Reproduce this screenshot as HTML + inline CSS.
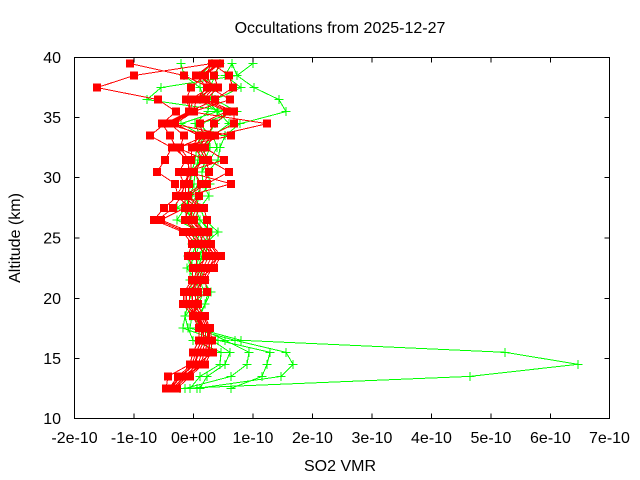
<!DOCTYPE html>
<html>
<head>
<meta charset="utf-8">
<style>
html,body{margin:0;padding:0;background:#fff;}
svg{display:block;}
text{font-family:"Liberation Sans",Arial,sans-serif;font-size:16px;fill:#000;}
</style>
</head>
<body>
<svg width="640" height="480" viewBox="0 0 640 480" xmlns="http://www.w3.org/2000/svg">
<defs>
<marker id="sq" markerUnits="userSpaceOnUse" markerWidth="8" markerHeight="8" refX="4" refY="4" overflow="visible">
<rect x="0" y="0" width="8" height="8" fill="#ff0000" shape-rendering="crispEdges"/>
</marker>
<marker id="pl" markerUnits="userSpaceOnUse" markerWidth="10" markerHeight="10" refX="5" refY="5" overflow="visible">
<path d="M0.5 5H9.5M5 0.5V9.5" stroke="#00ff00" stroke-width="1" fill="none" shape-rendering="crispEdges"/>
</marker>
</defs>
<rect width="640" height="480" fill="#fff"/>

<!-- green profiles -->
<g fill="none" stroke="#00ff00" stroke-width="1" shape-rendering="crispEdges" marker-start="url(#pl)" marker-mid="url(#pl)" marker-end="url(#pl)">
<polyline points="180,388.4 470,376.4 578,364.3 505,352.3 241,340.3 196,328.2 200,316.2 205,304.2 211,292.1 203,280.1 198,268.1 202,256.0 205,244.0 218,232.0 205,219.9 200,207.9 209,195.9 203,183.8 202,171.8 210,159.8 217,147.7 213,135.7 229,123.7 218,111.6 205,99.6 200,87.6 184,75.5 181,63.5"/>
<polyline points="197,388.4 281,376.4 293,364.3 286,352.3 235,340.3 190,328.2 192,316.2 198,304.2 204,292.1 200,280.1 195,268.1 200,256.0 203,244.0 210,232.0 200,219.9 195,207.9 200,195.9 210,183.8 208,171.8 218,159.8 220,147.7 225,135.7 240,123.7 286,111.6 279,99.6 254,87.6 237,75.5 253,63.5"/>
<polyline points="231,388.4 262,376.4 267,364.3 270,352.3 218,340.3 183,328.2 185,316.2 195,304.2 200,292.1 196,280.1 187,268.1 196,256.0 199,244.0 205,232.0 196,219.9 190,207.9 196,195.9 203,183.8 202,171.8 205,159.8 210,147.7 208,135.7 215,123.7 230,111.6 147,99.6 161,87.6 237,75.5 232,63.5"/>
<polyline points="185,388.4 231,376.4 247,364.3 249,352.3 225,340.3 200,328.2 198,316.2 205,304.2 208,292.1 205,280.1 200,268.1 206,256.0 207,244.0 212,232.0 200,219.9 177,207.9 192,195.9 198,183.8 196,171.8 200,159.8 205,147.7 210,135.7 200,123.7 237,111.6 215,99.6 241,87.6 225,75.5 232,63.5"/>
<polyline points="200,388.4 207,376.4 225,364.3 230,352.3 212,340.3 205,328.2 190,316.2 200,304.2 196,292.1 193,280.1 192,268.1 192,256.0 196,244.0 200,232.0 177,219.9 185,207.9 190,195.9 194,183.8 195,171.8 198,159.8 200,147.7 203,135.7 181,123.7 217,111.6 200,99.6 210,87.6 215,75.5 220,63.5"/>
<polyline points="190,388.4 200,376.4 220,364.3 221,352.3 193,340.3 188,328.2 185,316.2 188,304.2 192,292.1 190,280.1 190,268.1 188,256.0 192,244.0 195,232.0 190,219.9 188,207.9 188,195.9 190,183.8 192,171.8 195,159.8 197,147.7 200,135.7 195,123.7 208,111.6 210,99.6 215,87.6 200,75.5 212,63.5"/>
</g>

<!-- red profiles -->
<g fill="none" stroke="#ff0000" stroke-width="1" shape-rendering="crispEdges" marker-start="url(#sq)" marker-mid="url(#sq)" marker-end="url(#sq)">
<polyline points="166,388.4 168,376.4 190,364.3 193,352.3 199,340.3 199,328.2 193,316.2 183,304.2 184,292.1 192,280.1 193,268.1 188,256.0 192,244.0 183,232.0 154,219.9 164,207.9 178,195.9 175,183.8 157,171.8 165,159.8 172,147.7 150,135.7 165,123.7 189,111.6 190,99.6 210,87.6 184,75.5 130,63.5"/>
<polyline points="169,388.4 178,376.4 192,364.3 196,352.3 202,340.3 201,328.2 195,316.2 186,304.2 187,292.1 194,280.1 197,268.1 196,256.0 195,244.0 186,232.0 158,219.9 173,207.9 182,195.9 184,183.8 179,171.8 186,159.8 176,147.7 170,135.7 162,123.7 176,111.6 158,99.6 97,87.6 134,75.5 212,63.5"/>
<polyline points="171,388.4 181,376.4 195,364.3 199,352.3 204,340.3 203,328.2 197,316.2 189,304.2 190,292.1 197,280.1 200,268.1 206,256.0 198,244.0 190,232.0 161,219.9 185,207.9 185,195.9 186,183.8 188,171.8 189,159.8 180,147.7 184,135.7 170,123.7 191,111.6 186,99.6 191,87.6 205,75.5 220,63.5"/>
<polyline points="173,388.4 184,376.4 198,364.3 202,352.3 206,340.3 205,328.2 199,316.2 192,304.2 193,292.1 199,280.1 203,268.1 209,256.0 201,244.0 194,232.0 185,219.9 189,207.9 188,195.9 189,183.8 191,171.8 191,159.8 192,147.7 199,135.7 175,123.7 194,111.6 196,99.6 207,87.6 196,75.5 212,63.5"/>
<polyline points="175,388.4 187,376.4 200,364.3 205,352.3 208,340.3 207,328.2 201,316.2 195,304.2 196,292.1 201,280.1 206,268.1 212,256.0 204,244.0 198,232.0 188,219.9 193,207.9 199,195.9 201,183.8 194,171.8 203,159.8 195,147.7 203,135.7 200,123.7 227,111.6 200,99.6 211,87.6 200,75.5 220,63.5"/>
<polyline points="177,388.4 190,376.4 203,364.3 208,352.3 210,340.3 209,328.2 203,316.2 198,304.2 198,292.1 203,280.1 209,268.1 215,256.0 207,244.0 201,232.0 191,219.9 197,207.9 183,195.9 204,183.8 209,171.8 206,159.8 199,147.7 207,135.7 214,123.7 230,111.6 203,99.6 214,87.6 205,75.5 212,63.5"/>
<polyline points="168,388.4 183,376.4 205,364.3 211,352.3 212,340.3 210,328.2 205,316.2 190,304.2 207,292.1 205,280.1 212,268.1 218,256.0 210,244.0 205,232.0 194,219.9 200,207.9 187,195.9 207,183.8 229,171.8 208,159.8 202,147.7 211,135.7 234,123.7 234,111.6 206,99.6 218,87.6 214,75.5 220,63.5"/>
<polyline points="172,388.4 186,376.4 197,364.3 213,352.3 200,340.3 204,328.2 198,316.2 185,304.2 185,292.1 196,280.1 214,268.1 221,256.0 211,244.0 208,232.0 207,219.9 204,207.9 188,195.9 231,183.8 187,171.8 224,159.8 205,147.7 215,135.7 267,123.7 190,111.6 215,99.6 233,87.6 229,75.5 212,63.5"/>
<polyline points="170,388.4 180,376.4 194,364.3 198,352.3 205,340.3 202,328.2 196,316.2 193,304.2 191,292.1 198,280.1 196,268.1 208,256.0 196,244.0 196,232.0 186,219.9 186,207.9 180,195.9 186,183.8 190,171.8 187,159.8 174,147.7 231,135.7 172,123.7 193,111.6 230,99.6 210,87.6 202,75.5 220,63.5"/>
<polyline points="174,388.4 188,376.4 201,364.3 210,352.3 209,340.3 208,328.2 204,316.2 197,304.2 194,292.1 204,280.1 208,268.1 219,256.0 200,244.0 203,232.0 192,219.9 191,207.9 176,195.9 184,183.8 190,171.8 204,159.8 178,147.7 206,135.7 168,123.7 190,111.6 193,99.6 216,87.6 198,75.5 212,63.5"/>
</g>

<!-- frame -->
<rect x="74.5" y="57.5" width="535" height="361" fill="none" stroke="#000" stroke-width="1"/>
<!-- ticks -->
<g stroke="#000" stroke-width="1">
<path d="M74.5 418.5V413.5M134 418.5V413.5M193.5 418.5V413.5M253 418.5V413.5M312.5 418.5V413.5M372 418.5V413.5M431.5 418.5V413.5M491 418.5V413.5M550.5 418.5V413.5M609.5 418.5V413.5"/>
<path d="M74.5 57.5V62.5M134 57.5V62.5M193.5 57.5V62.5M253 57.5V62.5M312.5 57.5V62.5M372 57.5V62.5M431.5 57.5V62.5M491 57.5V62.5M550.5 57.5V62.5M609.5 57.5V62.5"/>
<path d="M74.5 418.5H79.5M74.5 358.5H79.5M74.5 298.5H79.5M74.5 238H79.5M74.5 177.5H79.5M74.5 117.5H79.5M74.5 57.5H79.5"/>
<path d="M609.5 418.5H604.5M609.5 358.5H604.5M609.5 298.5H604.5M609.5 238H604.5M609.5 177.5H604.5M609.5 117.5H604.5M609.5 57.5H604.5"/>
</g>

<!-- y tick labels -->
<g text-anchor="end">
<text x="61" y="424">10</text>
<text x="61" y="364">15</text>
<text x="61" y="304">20</text>
<text x="61" y="243.5">25</text>
<text x="61" y="183">30</text>
<text x="61" y="123">35</text>
<text x="61" y="63">40</text>
</g>
<!-- x tick labels -->
<g text-anchor="middle">
<text x="74.5" y="443">-2e-10</text>
<text x="134" y="443">-1e-10</text>
<text x="193.5" y="443">0e+00</text>
<text x="253" y="443">1e-10</text>
<text x="312.5" y="443">2e-10</text>
<text x="372" y="443">3e-10</text>
<text x="431.5" y="443">4e-10</text>
<text x="491" y="443">5e-10</text>
<text x="550.5" y="443">6e-10</text>
<text x="609.5" y="443">7e-10</text>
</g>

<text x="340" y="33" text-anchor="middle">Occultations from 2025-12-27</text>
<text x="340" y="471" text-anchor="middle">SO2 VMR</text>
<text transform="translate(20,238) rotate(-90)" text-anchor="middle">Altitude (km)</text>
</svg>
</body>
</html>
